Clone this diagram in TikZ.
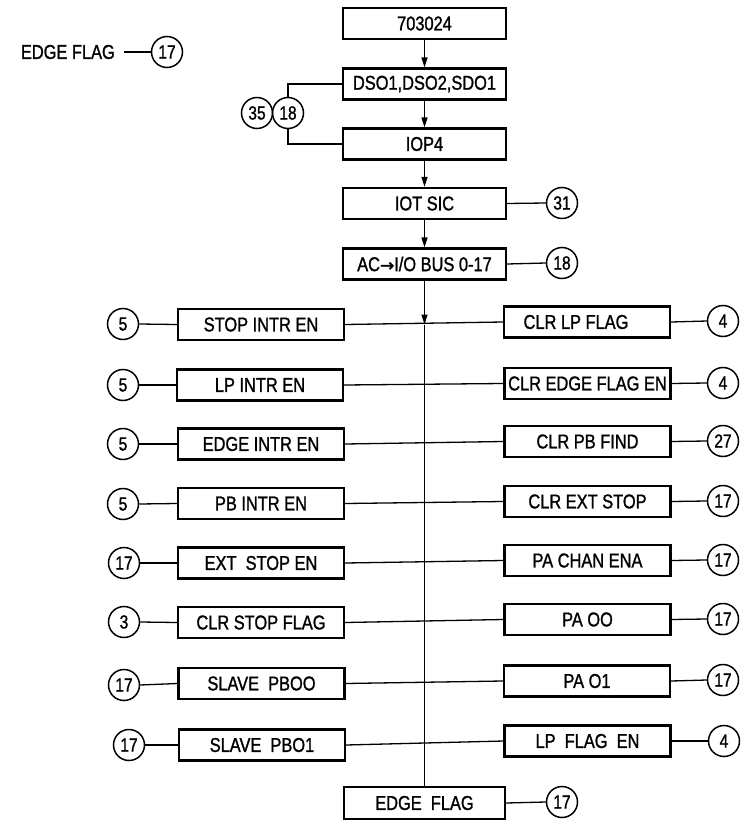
\documentclass[tikz,border=0pt]{standalone}
\usepackage{fontspec}
\setmainfont[FakeStretch=0.82,FakeBold=1.2]{Liberation Sans}
\newfontfamily\arrfont[FakeBold=2]{DejaVu Sans}
\usetikzlibrary{arrows.meta}
\begin{document}
\begin{tikzpicture}[x=1pt,y=-1pt,
  box/.style={draw, line width=2.2pt, minimum width=163pt, minimum height=31pt, inner sep=0pt, font=\fontsize{20}{20}\selectfont},
  sbox/.style={box, minimum width=166pt},
  circ/.style={draw, circle, line width=1.5pt, minimum size=31pt, inner sep=0pt, font=\fontsize{19}{19}\selectfont},
  lbl/.style={inner sep=0pt, font=\fontsize{20}{20}\selectfont},
  conn/.style={line width=1.3pt},
  arr/.style={conn, -{Triangle[length=10pt,width=6pt]}}]
\useasboundingbox (0,0) rectangle (752,824);

% top column
\node[box] (n703) at (424.5,23.5) {703024};
\node[box] (ds) at (424.5,84) {DSO1,DSO2,SDO1};
\node[box] (iop) at (424.5,144) {IOP4};
\node[box] (iot) at (424.5,203.5) {IOT SIC};
\node[box] (ac) at (424.5,264) {AC{\arrfont\fontsize{17}{17}\selectfont →}I/O BUS 0-17};
\node[circ] (c31) at (562,203) {31};
\node[circ] (c18b) at (562,263) {18};
\node[circ] (c35) at (257,113) {35};
\node[circ] (c18) at (288,113) {18};

% edge flag legend
\node[lbl, anchor=east] (eflbl) at (115,52) {EDGE FLAG};
\node[circ] (c17top) at (167,52) {17};
\draw[conn, shorten <=9pt] (eflbl.east) -- (c17top.west);

\draw[arr] (n703.south) -- (ds.north);
\draw[arr] (ds.south) -- (iop.north);
\draw[arr] (iop.south) -- (iot.north);
\draw[arr] (iot.south) -- (ac.north);
\draw[conn] (ds.west) -| (c18.north);
\draw[conn] (c18.south) |- (iop.west);
\draw[conn] (iot.east) -- (c31.west);
\draw[conn] (ac.east) -- (c18b.west);

% left column
\node[sbox] (l1) at (261,324.5) {STOP INTR EN};
\node[sbox] (l2) at (260,385) {LP INTR EN};
\node[sbox] (l3) at (261,444) {EDGE INTR EN};
\node[sbox] (l4) at (261,503.5) {PB INTR EN};
\node[sbox] (l5) at (261,563) {EXT\ \ STOP EN};
\node[sbox] (l6) at (261,622.5) {CLR STOP FLAG};
\node[sbox] (l7) at (261.5,683.5) {SLAVE\ \ PBOO};
\node[sbox] (l8) at (262,745) {SLAVE\ \ PBO1};
\node[circ] (lc1) at (123,324) {5};
\node[circ] (lc2) at (123,385) {5};
\node[circ] (lc3) at (123,444) {5};
\node[circ] (lc4) at (123,504) {5};
\node[circ] (lc5) at (124,563) {17};
\node[circ] (lc6) at (124,622) {3};
\node[circ] (lc7) at (124,685) {17};
\node[circ] (lc8) at (129,745) {17};

% right column
\node[sbox] (r1) at (587,322) {\hspace*{-22pt}CLR LP FLAG};
\node[sbox] (r2) at (587.5,383.5) {CLR EDGE FLAG EN};
\node[sbox] (r3) at (587.5,441.5) {CLR PB FIND};
\node[sbox] (r4) at (587.5,501.5) {CLR EXT STOP};
\node[sbox] (r5) at (587.5,560.5) {PA CHAN ENA};
\node[sbox] (r6) at (587.5,619.5) {PA OO};
\node[sbox] (r7) at (587,681) {PA O1};
\node[sbox] (r8) at (587.5,741) {LP\ \ FLAG\ \ EN};
\node[circ] (rc1) at (723,321) {4};
\node[circ] (rc2) at (723,383) {4};
\node[circ] (rc3) at (723,441) {27};
\node[circ] (rc4) at (723,501) {17};
\node[circ] (rc5) at (723,560) {17};
\node[circ] (rc6) at (723,619) {17};
\node[circ] (rc7) at (723,680) {17};
\node[circ] (rc8) at (724,741) {4};

% bottom
\node[box, minimum width=161pt, minimum height=32pt] (ef) at (424.5,803) {EDGE\ \ FLAG};
\node[circ] (c17b) at (562,802) {17};
\draw[conn] (ef.east) -- (c17b.west);

% bus
\coordinate (j1) at (ac.south |- l1.east);
\draw[arr] (ac.south) -- (j1);
\draw[conn] (j1) -- (ef.north);

% row connectors
\foreach \i in {1,...,8}{
  \draw[conn] (lc\i.east) -- (l\i.west);
  \draw[conn] (l\i.east) -- (r\i.west);
  \draw[conn] (r\i.east) -- (rc\i.west);
}
\end{tikzpicture}
\end{document}
